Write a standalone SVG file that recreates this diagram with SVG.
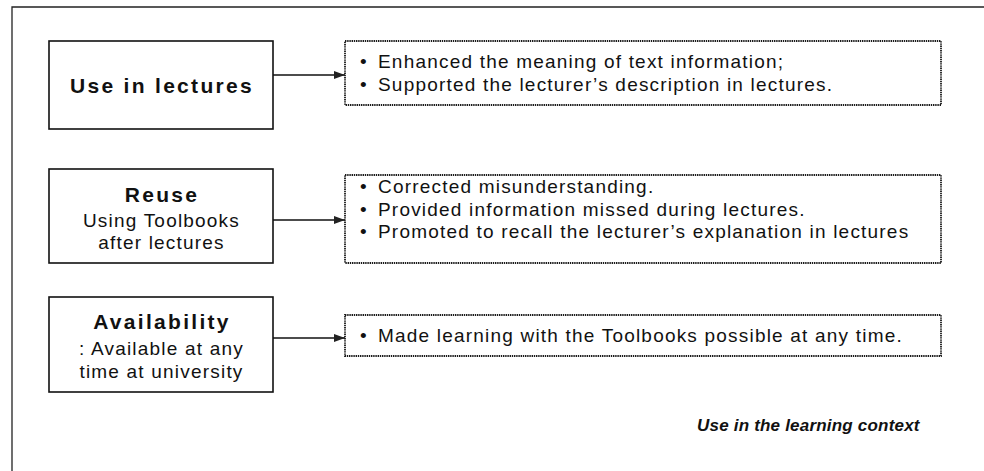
<svg xmlns="http://www.w3.org/2000/svg" width="984" height="471" viewBox="0 0 984 471">
  <style>
    .frame { fill: none; stroke: #222; stroke-width: 1.3; }
    .node { fill: #fff; stroke: #111; stroke-width: 1.6; }
    .note { fill: #fff; stroke: #1a1a1a; stroke-width: 1.8; stroke-dasharray: 1.4 0.8; }
    .edge { fill: none; stroke: #111; stroke-width: 1.6; }
    .title { font-family: "Liberation Sans", Arial, sans-serif; font-size: 21px; font-weight: bold; fill: #111; letter-spacing: 2.3px; text-anchor: middle; }
    .sub { font-family: "Liberation Sans", Arial, sans-serif; font-size: 19px; fill: #111; letter-spacing: 1.2px; text-anchor: middle; }
    .item { font-family: "Liberation Sans", Arial, sans-serif; font-size: 19px; fill: #111; letter-spacing: 1.2px; }
    .caption { font-family: "Liberation Sans", Arial, sans-serif; font-size: 17px; font-weight: bold; font-style: italic; fill: #111; letter-spacing: 0.2px; }
  </style>
  <defs>
    <marker id="arrow" markerWidth="11" markerHeight="8" refX="11" refY="4" orient="auto" markerUnits="userSpaceOnUse">
      <path d="M0,0 L11,4 L0,8 Z" fill="#222"/>
    </marker>
  </defs>

  <rect width="984" height="471" fill="#fff"/>

  <!-- surrounding frame (open on the right and bottom) -->
  <path class="frame" d="M12,471 V7 H984"/>

  <!-- connectors -->
  <g id="connectors">
    <line class="edge" x1="273" y1="75" x2="345" y2="75" marker-end="url(#arrow)"/>
    <line class="edge" x1="273" y1="220" x2="345" y2="220" marker-end="url(#arrow)"/>
    <line class="edge" x1="273" y1="338" x2="345" y2="338" marker-end="url(#arrow)"/>
  </g>

  <!-- left column -->
  <g id="use-in-lectures">
    <rect class="node" x="49" y="41" width="224" height="88"/>
    <text class="title" x="162" y="93">Use in lectures</text>
  </g>

  <g id="reuse">
    <rect class="node" x="49" y="169" width="224" height="94"/>
    <text class="title" x="162" y="202">Reuse</text>
    <text class="sub" x="161.5" y="227">Using Toolbooks</text>
    <text class="sub" x="161.5" y="249">after lectures</text>
  </g>

  <g id="availability">
    <rect class="node" x="49" y="297" width="224" height="95"/>
    <text class="title" x="162" y="329">Availability</text>
    <text class="sub" x="161.5" y="355">: Available at any</text>
    <text class="sub" x="161.5" y="378">time at university</text>
  </g>

  <!-- right column -->
  <g id="lecture-effects">
    <rect class="note" x="345" y="41" width="596" height="64"/>
    <text class="item" x="360" y="68">•</text>
    <text class="item" x="378" y="68">Enhanced the meaning of text information;</text>
    <text class="item" x="360" y="91">•</text>
    <text class="item" x="378" y="91">Supported the lecturer’s description in lectures.</text>
  </g>

  <g id="reuse-effects">
    <rect class="note" x="345" y="175" width="596" height="88"/>
    <text class="item" x="360" y="193">•</text>
    <text class="item" x="378" y="193">Corrected misunderstanding.</text>
    <text class="item" x="360" y="216">•</text>
    <text class="item" x="378" y="216">Provided information missed during lectures.</text>
    <text class="item" x="360" y="238">•</text>
    <text class="item" x="378" y="238">Promoted to recall the lecturer’s explanation in lectures</text>
  </g>

  <g id="availability-effects">
    <rect class="note" x="345" y="315" width="596" height="41"/>
    <text class="item" x="360" y="342">•</text>
    <text class="item" x="378" y="342">Made learning with the Toolbooks possible at any time.</text>
  </g>

  <text class="caption" x="697" y="431">Use in the learning context</text>
</svg>
